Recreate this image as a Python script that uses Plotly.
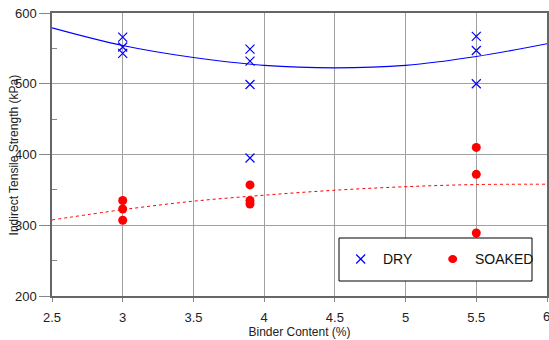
import plotly.graph_objects as go

# Measured indirect tensile strength (kPa) against binder content (%)
dry_x = [3, 3, 3, 3.9, 3.9, 3.9, 3.9, 5.5, 5.5, 5.5]
dry_y = [566, 552, 543, 549, 532, 499, 395, 567, 547, 500]

soaked_x = [3, 3, 3, 3.9, 3.9, 3.9, 5.5, 5.5, 5.5]
soaked_y = [335, 323, 307, 357, 335, 330, 410, 372, 289]

# Trend lines sampled along the binder content range
trend_x = [2.5, 3, 3.5, 4, 4.5, 5, 5.5, 6]
dry_trend = [579, 554, 537, 526, 522.5, 526, 538.5, 556.5]
soaked_trend = [307.5, 322, 334, 342.5, 349.5, 354.5, 357.5, 358]

x_ticks = [2.5, 3, 3.5, 4, 4.5, 5, 5.5, 6]
x_tick_text = ["2.5", "3", "3.5", "4", "4.5", "5", "5.5", "6"]
y_ticks = [200, 300, 400, 500, 600]

FONT = "Liberation Sans, Arial, sans-serif"
TXT = "#222222"
BLUE = "#0000ff"
RED = "#ff0000"

fig = go.Figure()

fig.add_trace(go.Scatter(
    x=trend_x, y=dry_trend, mode="lines", line_shape="spline",
    line=dict(color=BLUE, width=1.1), showlegend=False, hoverinfo="skip"))
fig.add_trace(go.Scatter(
    x=trend_x, y=soaked_trend, mode="lines", line_shape="spline",
    line=dict(color=RED, width=1, dash="dot"), showlegend=False, hoverinfo="skip"))

fig.add_trace(go.Scatter(
    x=dry_x, y=dry_y, mode="markers", name="DRY", showlegend=False,
    marker=dict(symbol="x-thin", size=9, line=dict(color=BLUE, width=1.2), color=BLUE)))
fig.add_trace(go.Scatter(
    x=soaked_x, y=soaked_y, mode="markers", name="SOAKED", showlegend=False,
    marker=dict(symbol="circle", size=9, color=RED, line=dict(width=0))))

axis_common = dict(
    showgrid=True, gridcolor="#a0a0a0", gridwidth=1,
    showline=True, linecolor="#666666", linewidth=1.5, mirror=True,
    ticks="outside", tickcolor="#888888",
    tickfont=dict(family=FONT, size=13, color=TXT),
    zeroline=False, automargin=False,
)

# The last x label sits at the right edge, so it is placed as an annotation
# nudged inward instead of as a centred tick label.
fig.update_xaxes(
    range=[2.5, 6], tickvals=x_ticks, ticktext=x_tick_text[:-1] + [""], ticklen=4,
    ticklabelstandoff=5,
    title=dict(text="Binder Content (%)", font=dict(family=FONT, size=12, color=TXT), standoff=2),
    **axis_common)
fig.update_yaxes(
    range=[200, 600], tickvals=y_ticks, ticklen=11,
    minor=dict(tickvals=[250, 350, 450, 550], ticks="inside", ticklen=5,
               tickcolor="#888888", showgrid=False),
    **axis_common)

fig.add_annotation(
    text=x_tick_text[-1], xref="x", yref="paper", x=x_ticks[-1], y=-0.0707,
    xanchor="right", yanchor="middle", xshift=4, showarrow=False, borderpad=0,
    font=dict(family=FONT, size=13, color=TXT))

fig.add_annotation(
    text="Indirect Tensile Strength (kPa)", textangle=-90,
    xref="paper", yref="paper", x=-0.077, y=0.5, xanchor="center", yanchor="middle",
    showarrow=False, font=dict(family=FONT, size=12, color=TXT))

# Key box with its two entries
KEY_Y = 0.1307
fig.add_shape(
    type="rect", xref="paper", yref="paper",
    x0=0.5798, x1=0.9697, y0=0.0530, y1=0.2049,
    line=dict(color="#000000", width=1), fillcolor="white", layer="above")

cross = dict(type="line", xref="paper", yref="paper", xsizemode="pixel", ysizemode="pixel",
             xanchor=0.6236, yanchor=KEY_Y, line=dict(color=BLUE, width=1.2), layer="above")
fig.add_shape(x0=-4.5, x1=4.5, y0=-4.5, y1=4.5, **cross)
fig.add_shape(x0=-4.5, x1=4.5, y0=4.5, y1=-4.5, **cross)
fig.add_shape(
    type="circle", xref="paper", yref="paper", xsizemode="pixel", ysizemode="pixel",
    xanchor=0.8095, yanchor=KEY_Y, x0=-4.5, x1=4.5, y0=-4, y1=4,
    fillcolor=RED, line=dict(width=0), layer="above")

for label, kx in [("DRY", 0.6667), ("SOAKED", 0.8525)]:
    fig.add_annotation(
        text=label, xref="paper", yref="paper", x=kx, y=KEY_Y,
        xanchor="left", yanchor="middle", showarrow=False, borderpad=0,
        font=dict(family=FONT, size=14, color="#111111"))

fig.update_layout(
    width=549, height=340,
    margin=dict(l=52, r=2, t=13, b=44),
    paper_bgcolor="white", plot_bgcolor="white",
    showlegend=False,
)

fig.write_html("out.html")
